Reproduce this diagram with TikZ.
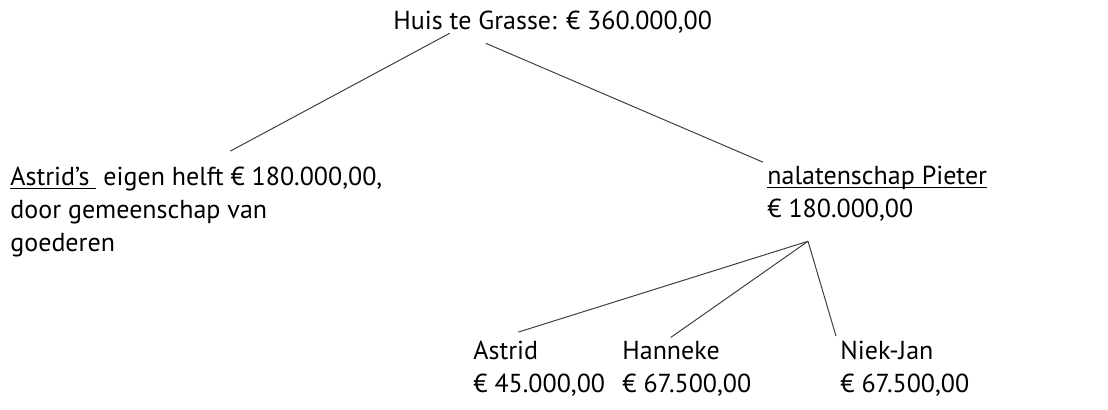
\documentclass[tikz,border=0pt]{standalone}
\usepackage{fontspec}
\setmainfont{PT Sans}
\usetikzlibrary{positioning,calc}
% underline that sits just under the baseline
\newcommand{\onder}[1]{\setbox0\hbox{#1}\rlap{\rule[-1.6pt]{\wd0}{0.5pt}}\box0}
\tikzset{
 txt/.style={anchor=base west, inner sep=0pt, align=left, font=\fontsize{13}{16.5}\selectfont},
 branch/.style={draw=black!75, line width=0.5pt}
}
\begin{document}
\begin{tikzpicture}
\useasboundingbox (0,0) rectangle (554pt,-205pt);
\node[txt] (root) at (196.5pt,-15pt) {Huis te Grasse: € 360.000,00};
\node[txt] (half) at (5pt,-126pt) {\onder{Astrid’s\ }\ eigen helft € 180.000,00,\\door gemeenschap van\\goederen};
\node[txt] (estate) at (383.5pt,-109pt) {\onder{nalatenschap Pieter}\\€ 180.000,00};
\node[txt] (astrid) at (236.5pt,-196.5pt) {Astrid\\€ 45.000,00};
\node[txt] (hanneke) at (311pt,-196.5pt) {Hanneke\\€ 67.500,00};
\node[txt] (niek) at (420pt,-196.5pt) {Niek-Jan\\€ 67.500,00};
\coordinate (split) at ($(estate.south west)+(20.5pt,-9.5pt)$);
\draw[branch] ([xshift=-51.5pt,yshift=0.5pt]root.south) -- ([xshift=17pt,yshift=8pt]half.north);
\draw[branch] ([xshift=-33.5pt,yshift=-4.5pt]root.south) -- ([xshift=-2pt,yshift=2pt]estate.north west);
\draw[branch] (split) -- ([xshift=-10.5pt,yshift=4.5pt]astrid.north);
\draw[branch] (split) -- ([xshift=-8pt,yshift=2pt]hanneke.north);
\draw[branch] (split) -- ([xshift=-2pt,yshift=2.5pt]niek.north west);
\end{tikzpicture}
\end{document}
